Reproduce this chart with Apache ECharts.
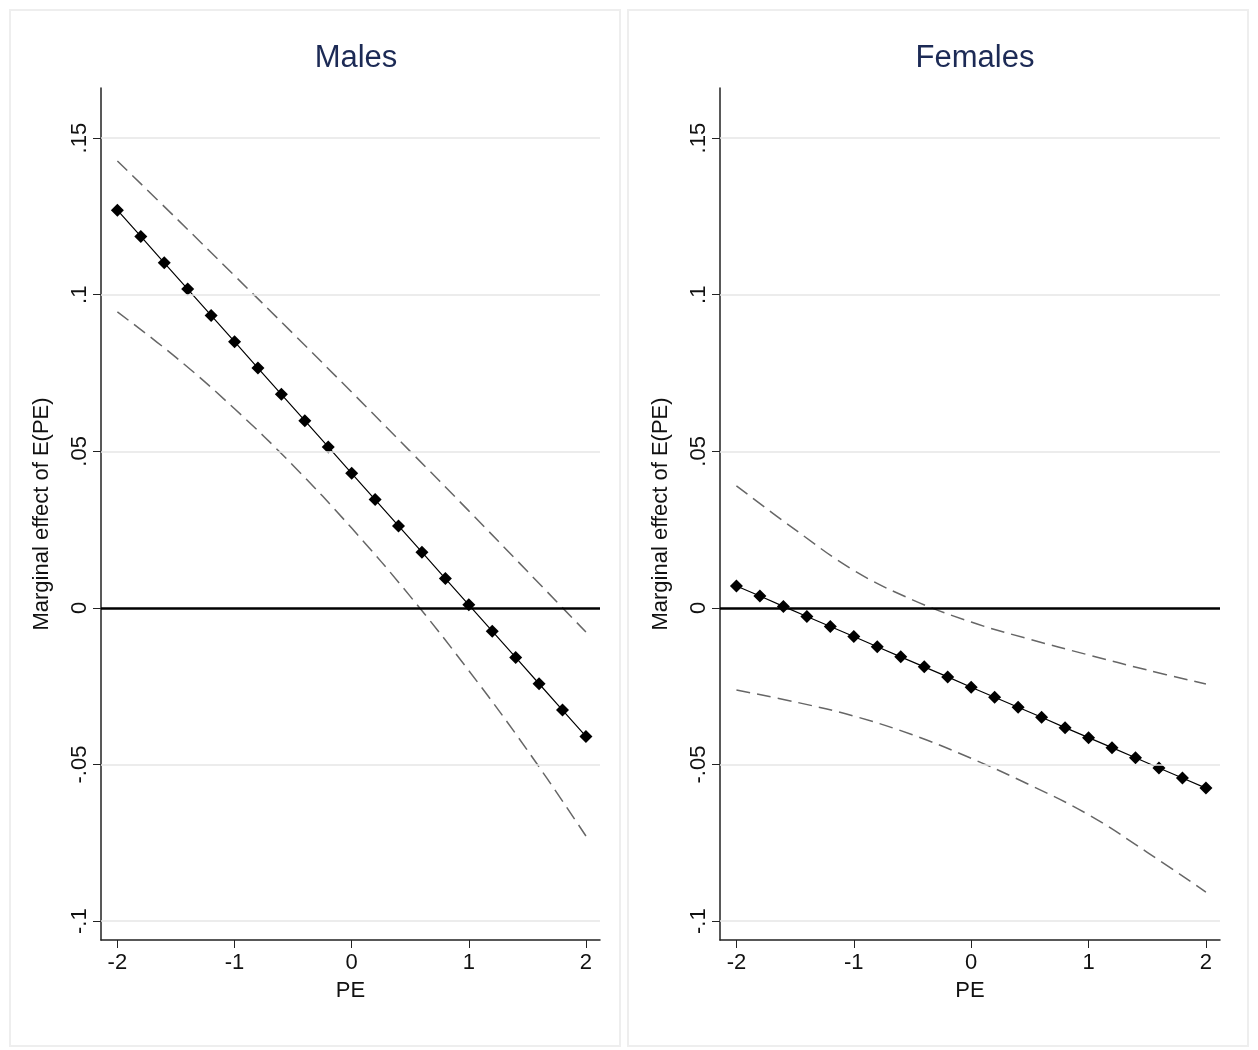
<!DOCTYPE html>
<html><head><meta charset="utf-8">
<script src="https://cdn.jsdelivr.net/npm/echarts@6/dist/echarts.min.js"></script>
<style>html,body{margin:0;background:#fff}#container{width:1258px;height:1050px}</style>
</head><body><div id="container"></div>
<script>
const pe = [-2,-1.8,-1.6,-1.4,-1.2,-1,-0.8,-0.6,-0.4,-0.2,0,0.2,0.4,0.6,0.8,1,1.2,1.4,1.6,1.8,2];
const ciX = [-2,-1.5,-1,-0.5,0,0.5,1,1.5,2];
const maleEff = [0.127,0.1186,0.1102,0.1018,0.0934,0.085,0.0766,0.0682,0.0598,0.0514,0.043,0.0346,0.0262,0.0178,0.0094,0.001,-0.0074,-0.0158,-0.0242,-0.0326,-0.041];
const maleUpper = [0.1427,0.1245,0.1061,0.0876,0.0689,0.05,0.031,0.0117,-0.0077];
const maleLower = [0.0945,0.08,0.0636,0.0455,0.0255,0.0037,-0.02,-0.0454,-0.0728];
const femEff = [0.007,0.0038,0.0005,-0.0027,-0.0059,-0.0091,-0.0124,-0.0156,-0.0188,-0.022,-0.0253,-0.0285,-0.0317,-0.0349,-0.0382,-0.0414,-0.0446,-0.0478,-0.0511,-0.0543,-0.0575];
const femUpper = [0.039,0.025,0.012,0.0026,-0.0045,-0.010,-0.015,-0.0198,-0.0243];
const femLower = [-0.0262,-0.030,-0.0345,-0.0405,-0.048,-0.0565,-0.066,-0.078,-0.0907];
const yTicks = [-0.1,-0.05,0,0.05,0.1,0.15];
const yLabels = ['-.1','-.05','0','.05','.1','.15'];
const xTicks = [-2,-1,0,1,2];

const myChart = echarts.init(document.getElementById('container'));
const font = 'Arial, "Liberation Sans", sans-serif';
const zip = (xs, ys) => xs.map((x, i) => [x, ys[i]]);

function xAxis(i) {
    return {
        gridIndex: i, type: 'value', min: -2.14, max: 2.12,
        name: 'PE', nameLocation: 'middle', nameGap: 40,
        nameTextStyle: {fontSize: 22, color: '#111', fontFamily: font},
        axisLine: {onZero: false, lineStyle: {color: '#222', width: 1.5}},
        axisTick: {length: 8, customValues: xTicks, lineStyle: {color: '#222'}},
        axisLabel: {customValues: xTicks, fontSize: 22, color: '#111', fontFamily: font, margin: 12},
        splitLine: {show: false}
    };
}
function yAxis(i) {
    return {
        gridIndex: i, type: 'value', min: -0.106, max: 0.166,
        name: 'Marginal effect of E(PE)', nameLocation: 'middle', nameGap: 48,
        nameTextStyle: {fontSize: 22, color: '#111', fontFamily: font},
        axisLine: {show: true, onZero: false, lineStyle: {color: '#222', width: 1.5}},
        axisTick: {show: true, length: 8, customValues: yTicks, lineStyle: {color: '#222'}},
        axisLabel: {customValues: yTicks, rotate: 90, fontSize: 22, color: '#111', fontFamily: font, margin: 10,
            formatter: v => yLabels[yTicks.findIndex(t => Math.abs(t - v) < 1e-9)]},
        splitLine: {show: false}
    };
}
function panel(i, eff, up, lo) {
    return [
        {type: 'line', xAxisIndex: i, yAxisIndex: i, data: [], silent: true,
            markLine: {symbol: 'none', silent: true, label: {show: false},
                data: [0.15, 0.1, 0.05, -0.05, -0.1].map(v => ({yAxis: v, lineStyle: {color: '#e6e6e6', width: 1.5, type: 'solid'}}))
                    .concat([{yAxis: 0, lineStyle: {color: '#000', width: 2.5, type: 'solid'}}])}},
        {type: 'line', xAxisIndex: i, yAxisIndex: i, data: zip(ciX, up), smooth: 0.4, symbol: 'none',
            lineStyle: {color: '#666', width: 1.5, type: [14, 7]}},
        {type: 'line', xAxisIndex: i, yAxisIndex: i, data: zip(ciX, lo), smooth: 0.4, symbol: 'none',
            lineStyle: {color: '#666', width: 1.5, type: [14, 7]}},
        {type: 'line', xAxisIndex: i, yAxisIndex: i, data: zip(pe, eff), symbol: 'diamond', symbolSize: 13,
            itemStyle: {color: '#000'}, lineStyle: {color: '#000', width: 1.2}}
    ];
}

const option = {
    animation: false,
    backgroundColor: '#fff',
    graphic: [
        {type: 'rect', shape: {x: 10, y: 10, width: 610, height: 1036}, style: {fill: 'none', stroke: '#eee', lineWidth: 2}},
        {type: 'rect', shape: {x: 628, y: 10, width: 620, height: 1036}, style: {fill: 'none', stroke: '#eee', lineWidth: 2}}
    ],
    title: [
        {text: 'Males', left: 351, top: 38, textAlign: 'center', textStyle: {fontSize: 31, fontWeight: 'normal', color: '#1c2a55', fontFamily: font}},
        {text: 'Females', left: 970, top: 38, textAlign: 'center', textStyle: {fontSize: 31, fontWeight: 'normal', color: '#1c2a55', fontFamily: font}}
    ],
    grid: [
        {left: 101, right: 658, top: 88, bottom: 110},
        {left: 720, right: 38, top: 88, bottom: 110}
    ],
    xAxis: [xAxis(0), xAxis(1)],
    yAxis: [yAxis(0), yAxis(1)],
    series: panel(0, maleEff, maleUpper, maleLower).concat(panel(1, femEff, femUpper, femLower))
};
myChart.setOption(option);
</script></body></html>
